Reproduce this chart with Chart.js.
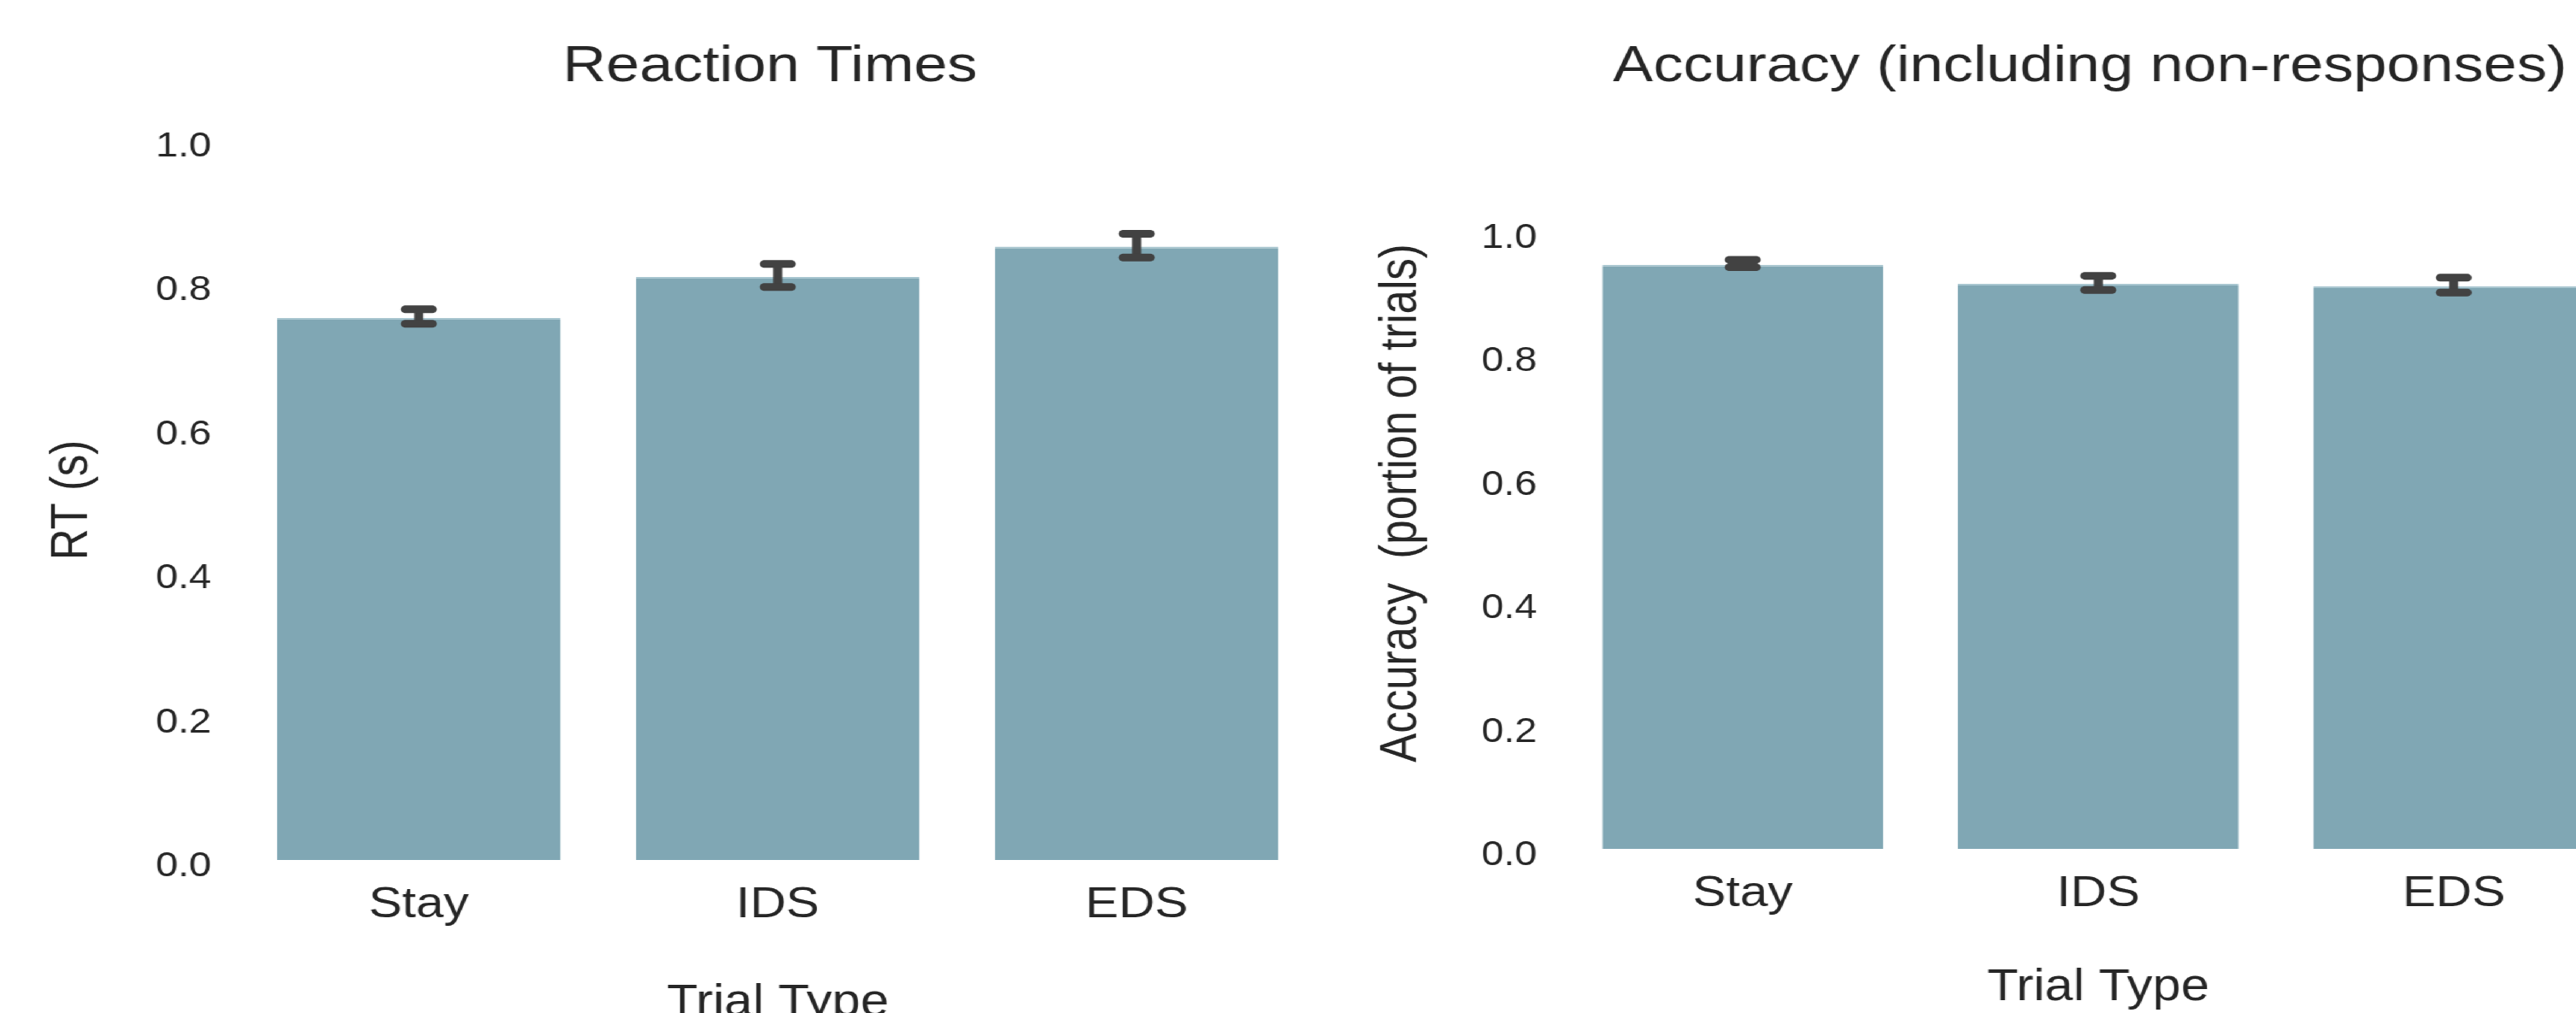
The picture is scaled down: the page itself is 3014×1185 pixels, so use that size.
<!DOCTYPE html>
<html>
<head>
<meta charset="utf-8">
<title>Reaction Times / Accuracy</title>
<script src="https://cdn.jsdelivr.net/npm/chart.js@4.4.0/dist/chart.umd.min.js"></script>
<style>
  html, body { margin: 0; padding: 0; background: #fff; overflow: hidden; }
  /* the source figure is stretched horizontally, so draw narrow and widen */
  #stage { position: relative; width: 2600px; height: 1210px; transform: scaleX(1.17); transform-origin: 0 0; }
  #stage canvas { position: absolute; top: 0; }
  #rt-chart { left: 0; }
  #acc-chart { left: 1330px; }
</style>
</head>
<body>
<div id="stage">
  <canvas id="rt-chart" width="1540" height="1205"></canvas>
  <canvas id="acc-chart" width="1520" height="1200"></canvas>
</div>
<script>
const trialTypes = ["Stay", "IDS", "EDS"];
const yTickValues = [0, 0.2, 0.4, 0.6, 0.8, 1.0];

const rtMeans = [0.753, 0.810, 0.852];
const rtLow = [0.745, 0.796, 0.837];
const rtHigh = [0.765, 0.828, 0.870];

const accMeans = [0.946, 0.915, 0.911];
const accLow = [0.942, 0.905, 0.901];
const accHigh = [0.954, 0.928, 0.925];

const TEXT = "#262626";
const BAR = "#80a7b4";
const ERR = "#424242";

Chart.defaults.font.family = "'Liberation Sans', Arial, Helvetica, sans-serif";
Chart.defaults.color = TEXT;

const errorBars = {
  id: "errorBars",
  afterDatasetsDraw(chart, args, opts) {
    const { ctx } = chart;
    const yScale = chart.scales.y;
    const bars = chart.getDatasetMeta(0).data;
    ctx.save();
    ctx.strokeStyle = ERR;
    ctx.lineWidth = 9;
    bars.forEach((bar, i) => {
      const x = bar.x;
      const top = yScale.getPixelForValue(opts.high[i]);
      const bottom = yScale.getPixelForValue(opts.low[i]);
      ctx.lineCap = "butt";
      ctx.beginPath();
      ctx.moveTo(x, top);
      ctx.lineTo(x, bottom);
      ctx.stroke();
      ctx.lineCap = "round";
      [top, bottom].forEach((y) => {
        ctx.beginPath();
        ctx.moveTo(x - 13.5, y);
        ctx.lineTo(x + 13.5, y);
        ctx.stroke();
      });
    });
    ctx.restore();
  },
};

function buildChart(id, cfg) {
  return new Chart(document.getElementById(id), {
    type: "bar",
    data: {
      labels: trialTypes,
      datasets: [
        {
          data: cfg.means,
          yAxisID: "y",
          backgroundColor: BAR,
          borderColor: "#a9c6d0",
          borderWidth: { top: 2, left: 0, right: 0, bottom: 0 },
          barPercentage: 0.79,
          categoryPercentage: 1,
        },
      ],
    },
    plugins: [errorBars],
    options: {
      responsive: false,
      animation: false,
      devicePixelRatio: 1,
      layout: { padding: { left: 0, right: 0, top: 0, bottom: cfg.bottomPad } },
      plugins: {
        legend: { display: false },
        tooltip: { enabled: false },
        title: {
          display: true,
          text: cfg.title,
          color: TEXT,
          font: { size: 60, weight: "normal" },
          padding: { top: 42, bottom: cfg.titleGap },
        },
        errorBars: { low: cfg.low, high: cfg.high },
      },
      scales: {
        x: {
          grid: { display: false, drawTicks: false },
          border: { display: false },
          ticks: { font: { size: 50 }, padding: 23, maxRotation: 0, autoSkip: false },
          title: {
            display: true,
            text: "Trial Type",
            font: { size: 51 },
            padding: { top: cfg.xTitlePad, bottom: 0 },
          },
        },
        y: {
          position: "left",
          min: 0,
          max: cfg.yMax,
          grid: { display: false, drawTicks: false },
          border: { display: false },
          afterBuildTicks: (scale) => {
            scale.ticks = yTickValues.map((value) => ({ value }));
          },
          afterFit: (scale) => {
            scale.width = cfg.yWidth;
          },
          ticks: {
            font: { size: 40 },
            padding: 28,
            labelOffset: 8,
            callback: (value) => Number(value).toFixed(1),
          },
          title: {
            display: true,
            text: cfg.yTitle,
            font: { size: 51 },
            padding: { top: cfg.yTitlePad, bottom: 0 },
          },
        },
        yRight: {
          position: "right",
          display: true,
          grid: { display: false, drawTicks: false },
          border: { display: false },
          ticks: { display: false },
          afterFit: (scale) => {
            scale.width = cfg.rightWidth;
          },
        },
      },
    },
  });
}

buildChart("rt-chart", {
  title: "Reaction Times",
  yTitle: "RT (s)",
  means: rtMeans,
  low: rtLow,
  high: rtHigh,
  yMax: 1.0,
  yWidth: 239.3,
  rightWidth: 223.8,
  yTitlePad: 42,
  titleGap: 50,
  xTitlePad: 31,
  bottomPad: 0.8,
});

buildChart("acc-chart", {
  title: "Accuracy (including non-responses)",
  yTitle: "Accuracy  (portion of trials)",
  means: accMeans,
  low: accLow,
  high: accHigh,
  yMax: 1.12,
  yWidth: 235,
  rightWidth: 218.4,
  yTitlePad: 41,
  titleGap: 70,
  xTitlePad: 26,
  bottomPad: 13.8,
});
</script>
</body>
</html>
